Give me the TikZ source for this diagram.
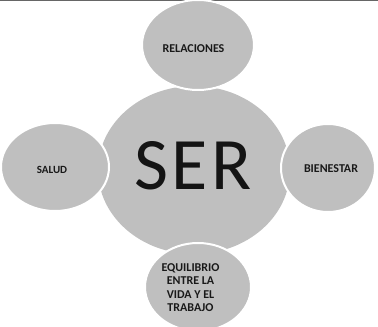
\documentclass[tikz,border=0pt]{standalone}
\usepackage{fontspec}
\setmainfont{Carlito}
\usetikzlibrary{shapes.geometric}
\begin{document}
\begin{tikzpicture}[x=1pt,y=1pt,
  bub/.style={ellipse,fill=black!25,draw=white,line width=2pt,inner sep=0pt},
  hub/.style={ellipse,fill=black!25,draw=none,inner sep=0pt},
  lbl/.style={font=\fontsize{12}{13.4}\selectfont\bfseries,text=black!90,inner sep=0pt,align=center}]
\useasboundingbox (0,0) rectangle (378,327);
\fill[white] (0,0) rectangle (378,327);
\draw[black!60,line width=1.5pt] (0,326.3) -- (378,326.3);
\node[hub,minimum width=192pt,minimum height=168pt] (ser) at (194,157) {};
\node[font=\fontsize{74}{74}\selectfont\addfontfeature{LetterSpace=5},text=black!92,inner sep=0pt] (sertxt) at (193,161) {SER};
\node[bub,minimum width=112pt,minimum height=90pt] (rel) at (198,282) {};
\node[lbl] (reltxt) at (193.5,278.5) {RELACIONES};
\node[bub,minimum width=108pt,minimum height=88pt] (sal) at (55,160) {};
\node[lbl,font=\fontsize{11}{12}\selectfont\bfseries] (saltxt) at (52,157) {SALUD};
\node[bub,minimum width=94pt,minimum height=88pt] (bie) at (328,159) {};
\node[lbl] (bietxt) at (331,158) {BIENESTAR};
\node[bub,minimum width=106pt,minimum height=88pt] (equ) at (198,40) {};
\node[lbl] (equtxt) at (190.5,39.5) {EQUILIBRIO\\ENTRE LA\\VIDA Y EL\\TRABAJO};
\end{tikzpicture}
\end{document}
